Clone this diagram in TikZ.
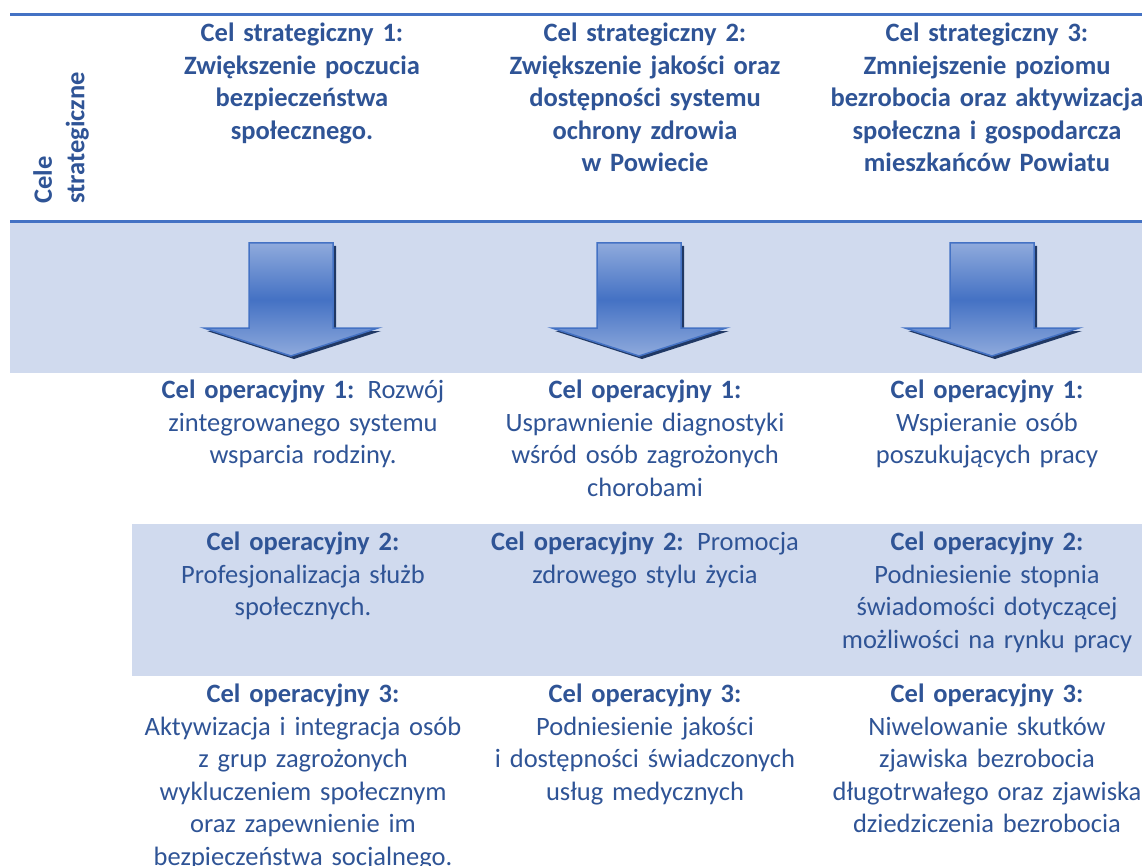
\documentclass[tikz,border=0pt]{standalone}
\usepackage{fontspec}
\setmainfont{Carlito}
\definecolor{goaltext}{HTML}{2F5496}
\definecolor{rulecol}{HTML}{4472C4}
\definecolor{bandfill}{HTML}{D0DAEE}
\definecolor{arrowlight}{HTML}{8FAADC}
\definecolor{arrowshadow}{HTML}{203864}
\tikzset{x=1pt, y=-1pt, % one unit is one pixel, y runs downwards
cell/.style={text=goaltext, align=center, inner sep=0pt, anchor=north, text width=340pt, font=\fontsize{26.5}{32.5}\selectfont, execute at begin node=\strut}, % every text of the table
stratcell/.style={cell, font=\bfseries\fontsize{26.5}{32.5}\selectfont}, % the strategic goals
band/.style={fill=bandfill, draw=none}, % shaded rows
rule/.style={draw=rulecol, line width=3pt}, % blue lines of the header
goalarrow/.style={draw=rulecol, line width=1.5pt, top color=arrowlight, bottom color=arrowlight, middle color=rulecol}, % the big arrows
}

\begin{document}
\begin{tikzpicture}
\useasboundingbox (0,0) rectangle (1142,866);
\clip (0,0) rectangle (1142,866);
\fill[band] (10,222) rectangle (1142,373);
\fill[band] (132,524) rectangle (1142,676);
\draw[rule] (10,14.5) -- (1142,14.5);
\draw[rule] (10,221.5) -- (1142,221.5);
\foreach \ax in {291,639,992} {
\fill[arrowshadow, shift={(3,3)}] ({\ax-42},243) -- ({\ax+42},243) -- ({\ax+42},328) -- ({\ax+87},328) -- (\ax,356) -- ({\ax-87},328) -- ({\ax-42},328) -- cycle;
\draw[goalarrow] ({\ax-42},243) -- ({\ax+42},243) -- ({\ax+42},328) -- ({\ax+87},328) -- (\ax,356) -- ({\ax-87},328) -- ({\ax-42},328) -- cycle;
}
\node[stratcell, rotate=90, anchor=north west, align=left, text width=160pt] (label) at (29,204) {Cele\\strategiczne};
\node[stratcell] (s1) at (302,19) {Cel strategiczny 1:\\Zwiększenie poczucia\\bezpieczeństwa\\społecznego.};
\node[stratcell] (s2) at (645,19) {Cel strategiczny 2:\\Zwiększenie jakości oraz\\dostępności systemu\\ochrony zdrowia\\w Powiecie};
\node[stratcell] (s3) at (987,19) {Cel strategiczny 3:\\Zmniejszenie poziomu\\bezrobocia oraz aktywizacja\\społeczna i gospodarcza\\mieszkańców Powiatu};
\node[cell] (o11) at (303,376) {\textbf{Cel operacyjny 1:} Rozwój\\zintegrowanego systemu\\wsparcia rodziny.};
\node[cell] (o21) at (645,376) {\textbf{Cel operacyjny 1:}\\Usprawnienie diagnostyki\\wśród osób zagrożonych\\chorobami};
\node[cell] (o31) at (987,376) {\textbf{Cel operacyjny 1:}\\Wspieranie osób\\poszukujących pracy};
\node[cell] (o12) at (303,528) {\textbf{Cel operacyjny 2:}\\Profesjonalizacja służb\\społecznych.};
\node[cell] (o22) at (645,528) {\textbf{Cel operacyjny 2:} Promocja\\zdrowego stylu życia};
\node[cell] (o32) at (987,528) {\textbf{Cel operacyjny 2:}\\Podniesienie stopnia\\świadomości dotyczącej\\możliwości na rynku pracy};
\node[cell] (o13) at (303,680) {\textbf{Cel operacyjny 3:}\\Aktywizacja i integracja osób\\z grup zagrożonych\\wykluczeniem społecznym\\oraz zapewnienie im\\bezpieczeństwa socjalnego.};
\node[cell] (o23) at (645,680) {\textbf{Cel operacyjny 3:}\\Podniesienie jakości\\i dostępności świadczonych\\usług medycznych};
\node[cell] (o33) at (987,680) {\textbf{Cel operacyjny 3:}\\Niwelowanie skutków\\zjawiska bezrobocia\\długotrwałego oraz zjawiska\\dziedziczenia bezrobocia};
\end{tikzpicture}
\end{document}
